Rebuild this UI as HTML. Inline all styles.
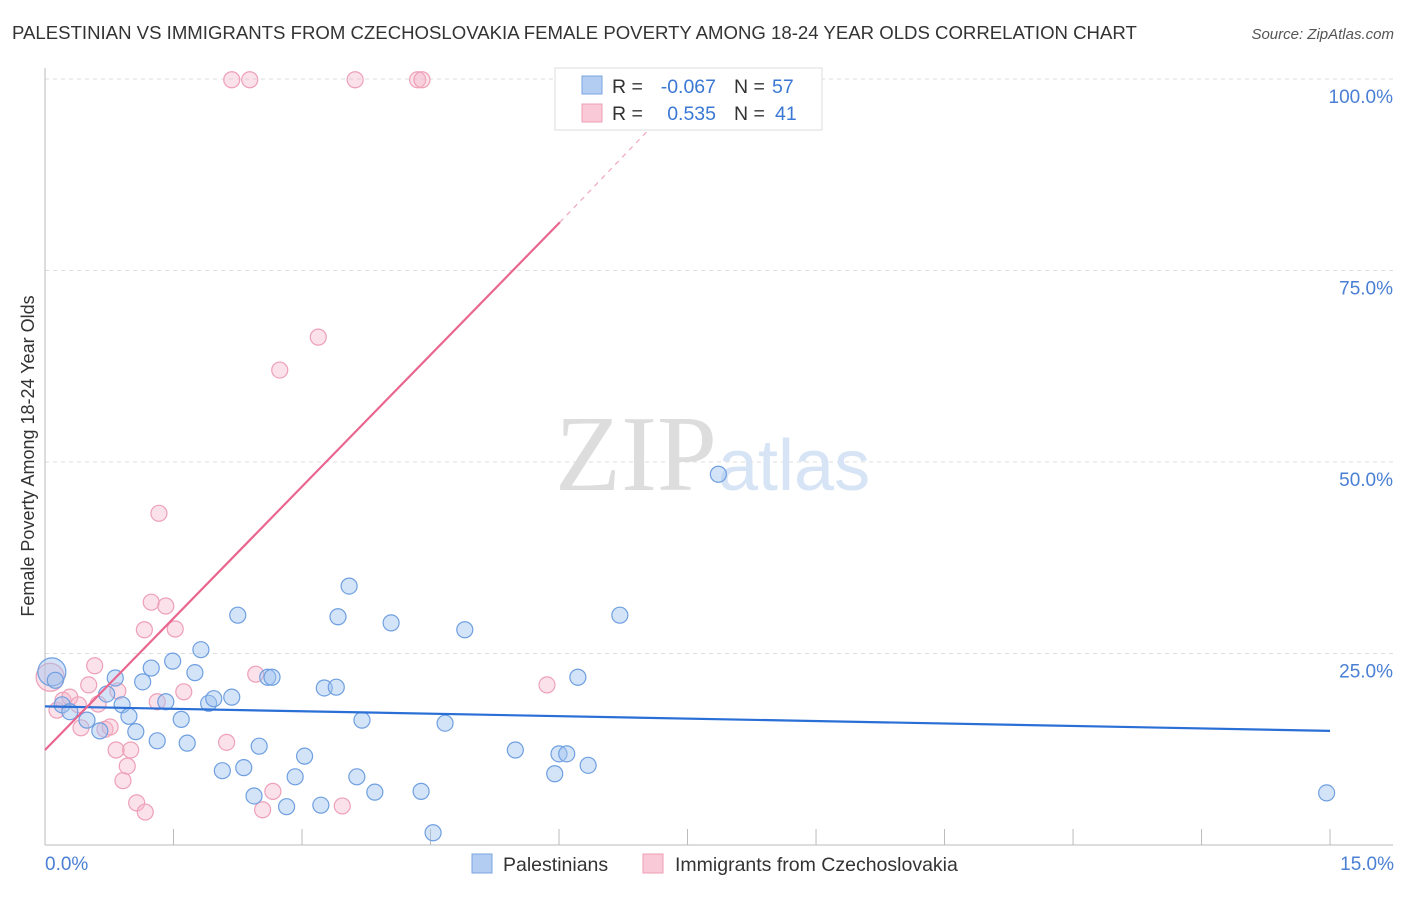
<!DOCTYPE html>
<html><head><meta charset="utf-8"><style>
body{margin:0;background:#fff;font-family:"Liberation Sans",sans-serif;}
</style></head><body>
<svg id="chart" width="1406" height="892" xmlns="http://www.w3.org/2000/svg">
<text x="12" y="39" font-size="18.6" fill="#333">PALESTINIAN VS IMMIGRANTS FROM CZECHOSLOVAKIA FEMALE POVERTY AMONG 18-24 YEAR OLDS CORRELATION CHART</text>
<text x="1394" y="39" font-size="15" fill="#555" font-style="italic" text-anchor="end">Source: ZipAtlas.com</text>
<g id="grid"></g>
<text x="555" y="490" font-size="108" fill="#ddd" font-family="Liberation Serif,serif">ZIP</text>
<text x="718" y="490" font-size="72" fill="#d6e4f5">atlas</text>
<g id="marks"></g>
<text transform="translate(34,456) rotate(-90)" font-size="18" fill="#333" text-anchor="middle">Female Poverty Among 18-24 Year Olds</text>
<text x="45" y="870" font-size="19" fill="#4a7fd4">0.0%</text>
<text x="1394" y="870" font-size="19" fill="#4a7fd4" text-anchor="end">15.0%</text>
<g>
<rect x="555" y="68" width="267" height="62" fill="#fff" stroke="#ddd"/>
<rect x="582" y="76" width="20" height="18" fill="#b3cdf2" stroke="#7aa5e0"/>
<rect x="582" y="104" width="20" height="18" fill="#f9c9d7" stroke="#ee9fb6"/>
<text x="612" y="93" font-size="19.5" fill="#333">R =</text>
<text x="716" y="93" font-size="19.5" fill="#3a78d4" text-anchor="end">-0.067</text>
<text x="734" y="93" font-size="19.5" fill="#333">N =</text>
<text x="772" y="93" font-size="19.5" fill="#3a78d4">57</text>
<text x="612" y="120" font-size="19.5" fill="#333">R =</text>
<text x="716" y="120" font-size="19.5" fill="#3a78d4" text-anchor="end">0.535</text>
<text x="734" y="120" font-size="19.5" fill="#333">N =</text>
<text x="775" y="120" font-size="19.5" fill="#3a78d4">41</text>
</g>
<g>
<rect x="472" y="854" width="20" height="19" fill="#b3cdf2" stroke="#7aa5e0"/>
<text x="503" y="871" font-size="19.5" fill="#333">Palestinians</text>
<rect x="643" y="854" width="20" height="19" fill="#f9c9d7" stroke="#ee9fb6"/>
<text x="675" y="871" font-size="19.5" fill="#333">Immigrants from Czechoslovakia</text>
</g>
</svg>
<script>
const yTicks=[25,50,75,100];
const yTickLabels=["25.0%","50.0%","75.0%","100.0%"];
const bluePx=[[52,672],[55,680],[62,705],[70,712],[87,720],[100,731],[107,694],[115,678],[122,705],[129,716],[136,732],[143,682],[151,668],[157,741],[166,702],[173,661],[181,719],[187,743],[195,673],[201,650],[209,703],[214,699],[222,771],[232,697],[238,615],[244,768],[254,796],[259,746],[268,677],[272,677],[287,807],[295,777],[305,756],[321,805],[324,688],[336,687],[338,617],[349,586],[357,777],[362,720],[375,792],[391,623],[421,791],[433,833],[445,723],[465,630],[515,750],[555,774],[559,754],[567,754],[578,677],[588,765],[620,615],[718,474],[1327,793]];
const pinkPx=[[50,677],[57,710],[63,700],[70,697],[78,705],[81,728],[89,685],[95,666],[98,704],[105,729],[110,727],[118,691],[116,750],[123,781],[127,766],[131,750],[137,803],[145,812],[144,630],[151,602],[157,702],[159,513],[166,606],[175,629],[184,692],[227,742],[232,80],[250,80],[256,674],[263,810],[273,791],[280,370],[318,337],[342,806],[355,80],[418,80],[422,80],[547,685]];
const blueX=bluePx.map(p=>+((p[0]-45)/85.67).toFixed(2));
const blueY=bluePx.map(p=>+((845-p[1])/7.66).toFixed(1));
const pinkX=pinkPx.map(p=>+((p[0]-45)/85.67).toFixed(2));
const pinkY=pinkPx.map(p=>+((845-p[1])/7.66).toFixed(1));
const blueTrend=[[0,18.1],[15,14.9]];
const pinkTrend=[[0,12.4],[6.01,81.3],[7.1,94]];
const sx=v=>45+v*85.67, sy=v=>845-v*7.66;
const NS="http://www.w3.org/2000/svg";
const grid=document.getElementById('grid'), marks=document.getElementById('marks');
function mk(tag,attrs,parent){const e=document.createElementNS(NS,tag);for(const k in attrs)e.setAttribute(k,attrs[k]);parent.appendChild(e);return e;}
yTicks.forEach((t,i)=>{
 const l=mk('line',{x1:45,x2:1393,y1:sy(t),y2:sy(t),stroke:'#ddd','stroke-dasharray':'4,4'},grid);
 
 
 const tx=mk('text',{x:1393,y:sy(t)+24,'font-size':19,fill:'#4a7fd4','text-anchor':'end'},grid);
 tx.textContent=yTickLabels[i];
 
 
});
const ax=mk('line',{x1:45,x2:45,y1:68,y2:845,stroke:'#bbb'},grid);


const bx=mk('line',{x1:45,x2:1393,y1:845,y2:845,stroke:'#bbb'},grid);


for(let i=1;i<=10;i++){const t=mk('line',{x1:sx(i*1.5),x2:sx(i*1.5),y1:829,y2:845,stroke:'#bbb'},grid);
 
 }
pinkX.forEach((x,i)=>{const c=mk('circle',{cx:sx(x),cy:sy(pinkY[i]),r:i==0?14:8,fill:'rgba(246,180,200,0.4)',stroke:'#eea0b8','stroke-width':1.2},marks);
 
 });
blueX.forEach((x,i)=>{const c=mk('circle',{cx:sx(x),cy:sy(blueY[i]),r:i==0?14:8,fill:'rgba(160,195,240,0.45)',stroke:'#6f9fe0','stroke-width':1.2},marks);
 
 });
const bl=mk('line',{x1:sx(blueTrend[0][0]),y1:sy(blueTrend[0][1]),x2:sx(blueTrend[1][0]),y2:sy(blueTrend[1][1]),stroke:'#2a6fd6','stroke-width':2.2},marks);


const pl=mk('line',{x1:sx(pinkTrend[0][0]),y1:sy(pinkTrend[0][1]),x2:sx(pinkTrend[1][0]),y2:sy(pinkTrend[1][1]),stroke:'#e9668f','stroke-width':2.2},marks);


const pd=mk('line',{x1:sx(pinkTrend[1][0]),y1:sy(pinkTrend[1][1]),x2:sx(pinkTrend[2][0]),y2:sy(pinkTrend[2][1]),stroke:'#f0a8bd','stroke-width':1.2,'stroke-dasharray':'5,5'},marks);


</script>
</body></html>
